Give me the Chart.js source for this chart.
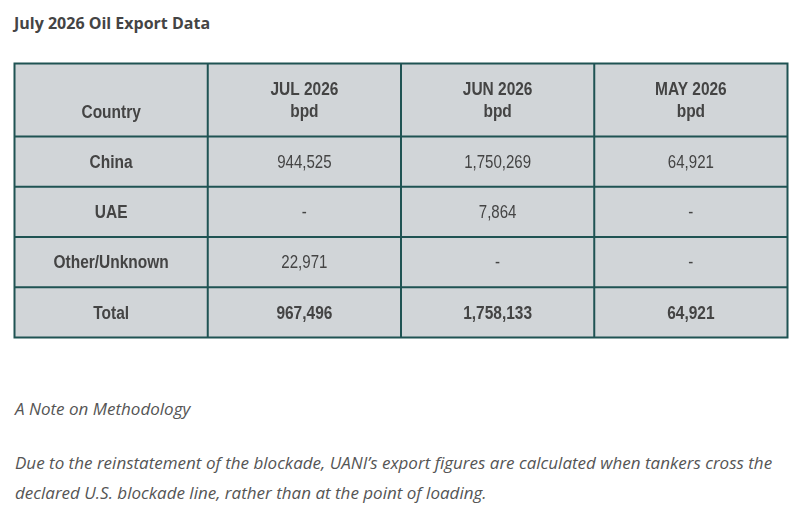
<!DOCTYPE html>
<html>
<head>
<meta charset="utf-8">
<script src="https://cdn.jsdelivr.net/npm/chart.js"></script>
<style>
    body { margin: 0; background: #fff; width: 802px; height: 516px; overflow: hidden; position: relative; }
    #title { position: absolute; left: 14px; top: 13px; font: bold 16px "Open Sans"; line-height: 20px; color: #444; }
    #tableWrap { position: absolute; left: 0; top: 0; width: 802px; height: 350px; }
    .note { position: absolute; left: 15px; font: italic 17px "Open Sans"; line-height: 30px; color: #555; margin: 0; white-space: nowrap; }
</style>
</head>
<body>
<div id="title">July 2026 Oil Export Data</div>
<div id="tableWrap"><canvas id="myChart"></canvas></div>
<p class="note" style="top:394px">A Note on Methodology</p>
<p class="note" style="top:448px">Due to the reinstatement of the blockade, UANI’s export figures are calculated when tankers cross the<br>declared U.S. blockade line, rather than at the point of loading.</p>
<script>
// =============================================
// table data (bpd)
// =============================================
const columns = ["Country", "JUL 2026", "JUN 2026", "MAY 2026"];
const units = ["", "bpd", "bpd", "bpd"];
const countries = ["China", "UAE", "Other/Unknown", "Total"];
const jul2026 = [944525, null, 22971, 967496];
const jun2026 = [1750269, 7864, null, 1758133];
const may2026 = [64921, null, null, 64921];

const BORDER = "#1f5353";
const CELL_BG = "#d1d5d8";
const TEXT = "#444";
const HEADER_H = 73;
const SQUEEZE = 0.86;

function fmt(v) {
    return v === null ? "-" : v.toLocaleString("en-US");
}

function cellPoints(col, values) {
    return countries.map((c, i) => ({ x: col, y: c, label: fmt(values[i]) }));
}

function drawText(ctx, text, x, y, bold, size) {
    ctx.save();
    ctx.font = (bold ? "bold " : "") + size + "px 'Liberation Sans', Arial, sans-serif";
    ctx.fillStyle = TEXT;
    ctx.textAlign = "center";
    ctx.textBaseline = "alphabetic";
    ctx.translate(x, y);
    ctx.scale(SQUEEZE, 1);
    ctx.fillText(text, 0, 0);
    ctx.restore();
}

const tablePlugin = {
    id: "tableCells",
    beforeDatasetsDraw(chart) {
        const { ctx, chartArea, scales } = chart;
        const top = chartArea.top - HEADER_H;
        ctx.save();
        ctx.fillStyle = CELL_BG;
        ctx.fillRect(chartArea.left, top, chartArea.right - chartArea.left, chartArea.bottom - top);
        ctx.strokeStyle = BORDER;
        ctx.lineWidth = 2;
        ctx.beginPath();
        for (let i = 0; i <= columns.length; i++) {
            const x = scales.x.getPixelForValue(i - 0.5);
            ctx.moveTo(x, top);
            ctx.lineTo(x, chartArea.bottom);
        }
        ctx.moveTo(chartArea.left - 1, top);
        ctx.lineTo(chartArea.right + 1, top);
        for (let i = 0; i <= countries.length; i++) {
            const y = scales.y.getPixelForValue(i - 0.5);
            ctx.moveTo(chartArea.left - 1, y);
            ctx.lineTo(chartArea.right + 1, y);
        }
        ctx.stroke();
        ctx.restore();
    },
    afterDatasetsDraw(chart) {
        const { ctx, chartArea, scales } = chart;
        // header row
        columns.forEach((col, i) => {
            const x = scales.x.getPixelForValue(i);
            if (units[i]) {
                drawText(ctx, col, x, chartArea.top - 41.5, true, 18);
                drawText(ctx, units[i], x, chartArea.top - 19.5, true, 18);
            } else {
                drawText(ctx, col, x, chartArea.top - 19, true, 18);
            }
        });
        // body cells
        chart.data.datasets.forEach((ds, d) => {
            const meta = chart.getDatasetMeta(d);
            meta.data.forEach((pt, i) => {
                const bold = d === 0 || ds.data[i].y === "Total";
                drawText(ctx, ds.data[i].label, pt.x, pt.y + 6.3, bold, bold ? 18 : 17.5);
            });
        });
    },
};

const config = {
    type: "scatter",
    data: {
        datasets: [
            { label: "Country", data: countries.map((c) => ({ x: "Country", y: c, label: c })) },
            { label: "JUL 2026", data: cellPoints("JUL 2026", jul2026) },
            { label: "JUN 2026", data: cellPoints("JUN 2026", jun2026) },
            { label: "MAY 2026", data: cellPoints("MAY 2026", may2026) },
        ],
    },
    options: {
        responsive: true,
        maintainAspectRatio: false,
        animation: false,
        events: [],
        elements: { point: { radius: 0, hoverRadius: 0 } },
        layout: { padding: { left: 14.5, right: 14.5, top: 136.5, bottom: 12.5 } },
        scales: {
            x: { type: "category", labels: columns, offset: true, display: false },
            y: { type: "category", labels: countries, offset: true, display: false },
        },
        plugins: { legend: { display: false }, tooltip: { enabled: false } },
    },
    plugins: [tablePlugin],
};

new Chart(document.getElementById("myChart"), config);
</script>
</body>
</html>
